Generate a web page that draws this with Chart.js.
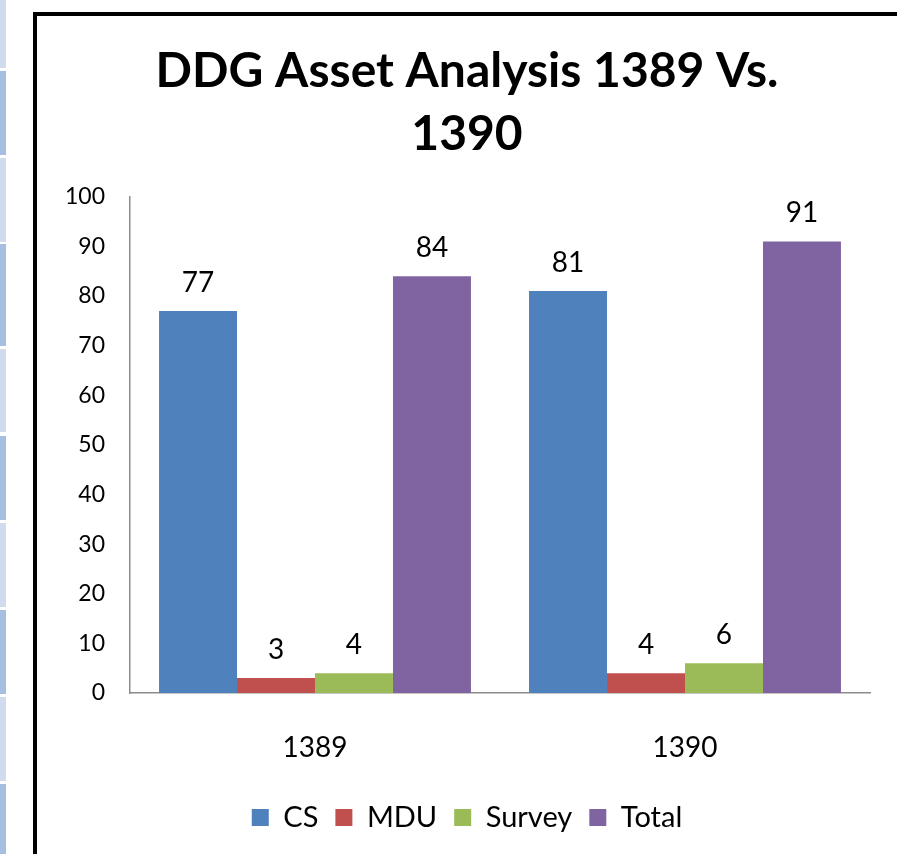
<!DOCTYPE html>
<html>
<head>
<meta charset="utf-8">
<script src="https://cdn.jsdelivr.net/npm/chart.js@4/dist/chart.umd.min.js"></script>
<style>
  body { margin: 0; background: #fff; }
  #wrap { position: relative; width: 897px; height: 854px; overflow: hidden; }
  .row { position: absolute; left: 0; width: 6px; }
  #frame { position: absolute; left: 33px; top: 12px; width: 900px; height: 900px;
    border: 4px solid #000; pointer-events: none; }
  canvas { position: absolute; left: 0; top: 0; }
</style>
</head>
<body>
<div id="wrap">
  <canvas id="chart" width="897" height="854"></canvas>
  <div id="frame"></div>
</div>
<script>
// data
var years = ['1389', '1390']
var cs = [77, 81]
var mdu = [3, 4]
var survey = [4, 6]
var total = [84, 91]
var yTicks = [0, 10, 20, 30, 40, 50, 60, 70, 80, 90, 100]

var fontName = 'Lato, "Open Sans", sans-serif'

// table rows peeking out at the left edge
var rows = [[0, 68], [71, 155], [158, 242], [244, 346], [349, 432], [436, 520], [523, 607], [610, 694], [697, 781], [784, 854]]
rows.forEach(function (r, i) {
  var d = document.createElement('div')
  d.className = 'row'
  d.style.top = r[0] + 'px'
  d.style.height = (r[1] - r[0]) + 'px'
  d.style.background = i % 2 ? '#a6bee0' : '#d0dcee'
  document.getElementById('wrap').appendChild(d)
})

// draw the value above each bar
var barValues = {
  id: 'barValues',
  afterDatasetsDraw(chart) {
    var ctx = chart.ctx
    ctx.save()
    ctx.font = '28px ' + fontName
    ctx.fillStyle = '#000'
    ctx.textAlign = 'center'
    ctx.textBaseline = 'alphabetic'
    chart.data.datasets.forEach(function (ds, i) {
      chart.getDatasetMeta(i).data.forEach(function (bar, j) {
        ctx.fillText(ds.data[j], bar.x, bar.y - 19)
      })
    })
    ctx.restore()
  }
}

var chart = new Chart(document.getElementById('chart').getContext('2d'), {
  type: 'bar',
  data: {
    labels: years,
    datasets: [
      { label: 'CS', data: cs, backgroundColor: '#4f81bd' },
      { label: 'MDU', data: mdu, backgroundColor: '#c0504d' },
      { label: 'Survey', data: survey, backgroundColor: '#9bbb59' },
      { label: 'Total', data: total, backgroundColor: '#8064a2' }
    ]
  },
  options: {
    responsive: false,
    animation: false,
    categoryPercentage: 0.843,
    barPercentage: 1,
    layout: { padding: { left: 64, right: 27, top: 16, bottom: 12 } },
    plugins: {
      title: {
        display: true,
        text: ['DDG Asset Analysis 1389 Vs.', '1390'],
        color: '#000',
        font: { family: fontName, size: 48, weight: 'bold', lineHeight: 1.31 },
        padding: { top: 24, bottom: 31 }
      },
      legend: {
        position: 'bottom',
        labels: {
          color: '#000',
          font: { family: fontName, size: 29 },
          boxWidth: 17,
          boxHeight: 17,
          padding: 17
        }
      },
      tooltip: { enabled: false }
    },
    scales: {
      x: {
        afterFit: function (scale) { scale.height = 93 },
        grid: { display: false, drawTicks: false },
        border: { color: '#8c8c8c', width: 1.5 },
        ticks: { color: '#000', font: { family: fontName, size: 28 }, padding: 38 }
      },
      y: {
        min: 0,
        max: 100,
        afterBuildTicks: function (scale) {
          scale.ticks = yTicks.map(function (v) { return { value: v } })
        },
        afterFit: function (scale) { scale.width = 66 },
        grid: { display: false, drawTicks: false },
        border: { color: '#8c8c8c', width: 1.5 },
        ticks: { color: '#000', font: { family: fontName, size: 23 }, padding: 25 }
      }
    }
  },
  plugins: [barValues]
})
</script>
</body>
</html>
